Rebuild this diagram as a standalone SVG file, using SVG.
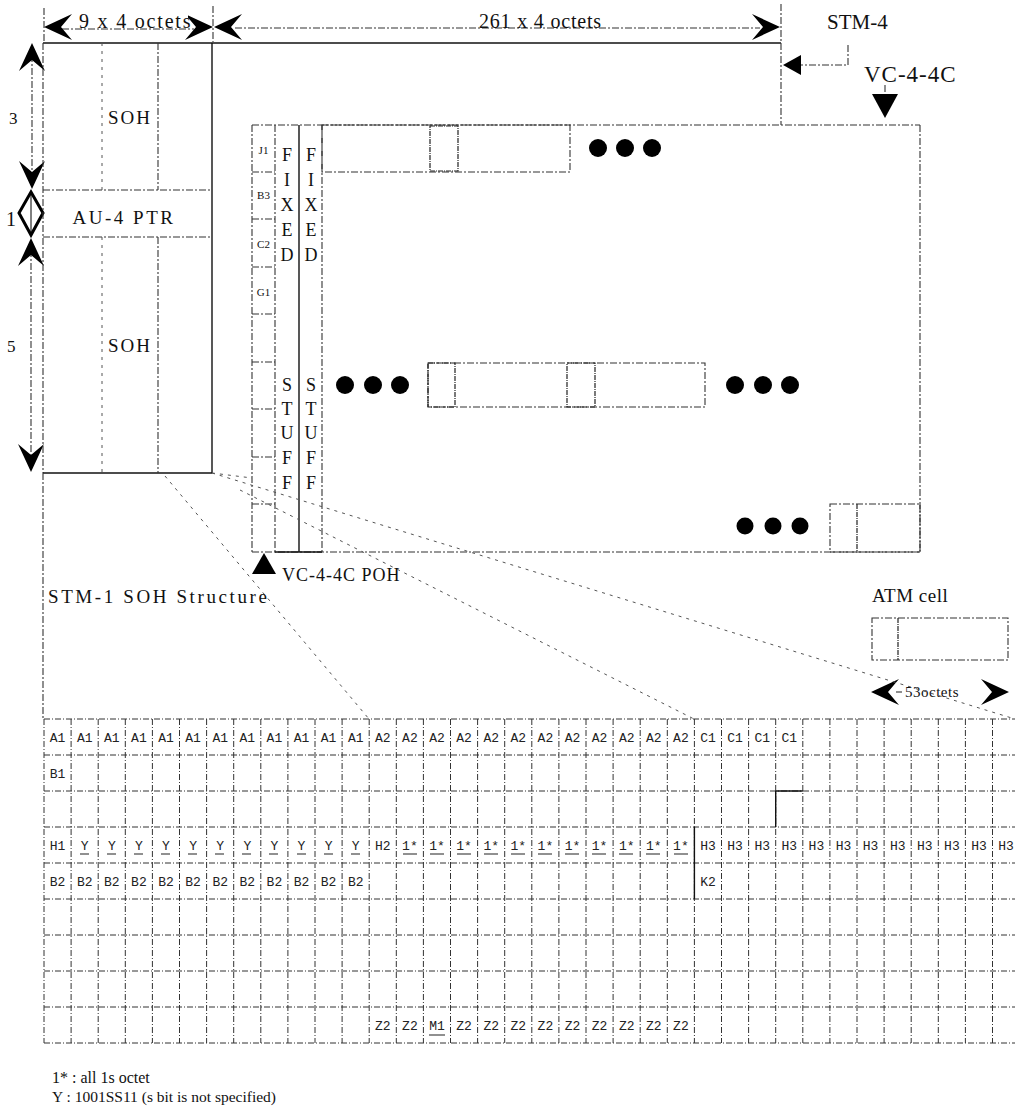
<svg xmlns="http://www.w3.org/2000/svg" xmlns:xlink="http://www.w3.org/1999/xlink" width="1015" height="1110" viewBox="0 0 1015 1110">
<style>
.t{font-family:"Liberation Serif","Times New Roman",serif;fill:#111}
.m{font-family:"Liberation Mono","Courier New",monospace;fill:#222;font-size:13px;text-anchor:middle}
.d{stroke:#333;stroke-width:1.1;stroke-dasharray:7 2 2 2;fill:none}
.f{stroke:#555;stroke-width:1;stroke-dasharray:3 5;fill:none}
.s{stroke:#111;stroke-width:1.4;fill:none}
.h{stroke:#222;stroke-width:1.2;stroke-dasharray:5 1 1 1;fill:none}
.g{stroke:#333;stroke-width:1;stroke-dasharray:6 2 1 2;fill:none}
.u{stroke:#222;stroke-width:1.2}
</style>
<defs>
<path id="ah" d="M0,0 L-28,-13 L-17,0 L-28,13 Z" fill="#000"/>
</defs>
<rect width="1015" height="1110" fill="#fff"/>

<g id="dimensions">
<line class="d" x1="44" y1="8" x2="44" y2="42"/>
<line class="d" x1="213" y1="6" x2="213" y2="42"/>
<line class="d" x1="781" y1="4" x2="781" y2="42"/>
<line class="d" x1="62" y1="29" x2="194" y2="29"/>
<line class="d" x1="235" y1="28" x2="760" y2="28"/>
<rect x="476" y="10" width="130" height="16" fill="#fff"/>
<use href="#ah" transform="translate(44,27) rotate(180)"/>
<use href="#ah" transform="translate(213,27)"/>
<use href="#ah" transform="translate(214,27) rotate(180)"/>
<use href="#ah" transform="translate(780,27)"/>
<rect x="76" y="10" width="112" height="17" fill="#fff"/>
<text class="t" x="79" y="28" font-size="20" letter-spacing="1.8">9 x 4 octets</text>
<text class="t" x="479" y="28" font-size="20" letter-spacing="0.8">261 x 4 octets</text>
<line class="d" x1="32" y1="55" x2="32" y2="178"/>
<use href="#ah" transform="translate(32,43) rotate(-90)"/>
<use href="#ah" transform="translate(32,189) rotate(90)"/>
<polygon points="31,192 43,213 31,235 19,213" fill="#fff" stroke="#000" stroke-width="3"/>
<line x1="31" y1="194" x2="31" y2="233" stroke="#000" stroke-width="1"/>
<line class="d" x1="31" y1="250" x2="31" y2="460"/>
<use href="#ah" transform="translate(31,238) rotate(-90)"/>
<use href="#ah" transform="translate(31,472) rotate(90)"/>
<text class="t" x="9" y="124" font-size="17">3</text>
<text class="t" x="6" y="226" font-size="20">1</text>
<text class="t" x="7" y="352" font-size="17">5</text>
</g>

<g id="stm4-frame">
<line class="s" x1="43" y1="43" x2="781" y2="43"/>
<line class="d" x1="781" y1="43" x2="781" y2="125"/>
<text class="t" x="827" y="29" font-size="21">STM-4</text>
<polyline class="d" points="848,45 848,65 801,65"/>
<polygon points="783,65 801,55 801,75" fill="#000"/>
</g>

<g id="soh-block">
<line class="d" x1="43" y1="43" x2="43" y2="473"/>
<line class="s" x1="212" y1="43" x2="212" y2="473"/>
<line class="s" x1="43" y1="473" x2="212" y2="473"/>
<line class="d" x1="43" y1="190" x2="212" y2="190"/>
<line class="d" x1="43" y1="237" x2="212" y2="237"/>
<line class="f" x1="102" y1="43" x2="102" y2="190"/>
<line class="d" x1="158" y1="43" x2="158" y2="190"/>
<line class="f" x1="102" y1="237" x2="102" y2="473"/>
<line class="d" x1="158" y1="237" x2="158" y2="473"/>
<text class="t" x="130" y="124" font-size="19" letter-spacing="2" text-anchor="middle">SOH</text>
<text class="t" x="124" y="224" font-size="19" letter-spacing="2.5" text-anchor="middle">AU-4 PTR</text>
<text class="t" x="130" y="352" font-size="19" letter-spacing="2" text-anchor="middle">SOH</text>
</g>

<g id="vc-4-4c-frame">
<line class="d" x1="252" y1="125" x2="920" y2="125"/>
<line class="d" x1="920" y1="125" x2="920" y2="552"/>
<line class="d" x1="252" y1="552" x2="920" y2="552"/>
<line class="s" x1="275" y1="552" x2="322" y2="552"/>
<text class="t" x="864" y="82" font-size="23" letter-spacing="1">VC-4-4C</text>
<line class="d" x1="885" y1="85" x2="885" y2="94"/>
<polygon points="872,94 898,94 885,118" fill="#000"/>
</g>

<g id="poh-column">
<line class="d" x1="252" y1="125" x2="252" y2="552"/>
<line class="d" x1="275" y1="125" x2="275" y2="552"/>
<path class="d" d="M252 172H275M252 219H275M252 267H275M252 314H275M252 362H275M252 409H275M252 457H275M252 504H275"/>
<text class="t" x="263.5" y="154" font-size="11" text-anchor="middle">J1</text>
<text class="t" x="263.5" y="199" font-size="11" text-anchor="middle">B3</text>
<text class="t" x="263.5" y="248" font-size="11" text-anchor="middle">C2</text>
<text class="t" x="263.5" y="296" font-size="11" text-anchor="middle">G1</text>
</g>

<g id="fixed-stuff-columns">
<line class="s" x1="299" y1="125" x2="299" y2="552"/>
<line class="d" x1="322" y1="125" x2="322" y2="552"/>
<g class="t" font-size="18" text-anchor="middle">
<text x="287" y="161">F</text><text x="287" y="186">I</text><text x="287" y="211">X</text><text x="287" y="236">E</text><text x="287" y="261">D</text>
<text x="311" y="161">F</text><text x="311" y="186">I</text><text x="311" y="211">X</text><text x="311" y="236">E</text><text x="311" y="261">D</text>
<text x="287" y="391">S</text><text x="287" y="415">T</text><text x="287" y="439">U</text><text x="287" y="464">F</text><text x="287" y="489">F</text>
<text x="311" y="391">S</text><text x="311" y="415">T</text><text x="311" y="439">U</text><text x="311" y="464">F</text><text x="311" y="489">F</text>
</g>
</g>

<g id="atm-cells">
<rect class="d" x="322" y="125" width="248" height="47"/>
<rect class="h" x="430" y="126" width="28" height="45"/>
<rect class="d" x="428" y="363" width="277" height="44"/>
<rect class="h" x="428" y="363" width="27" height="44"/>
<rect class="h" x="567" y="363" width="28" height="44"/>
<rect class="d" x="830" y="504" width="90" height="48"/>
<line class="h" x1="857" y1="504" x2="857" y2="552"/>
<g fill="#000">
<circle cx="598" cy="148" r="9"/><circle cx="625" cy="148" r="9"/><circle cx="652" cy="148" r="9"/>
<circle cx="345" cy="385" r="9"/><circle cx="373" cy="385" r="9"/><circle cx="400" cy="385" r="9"/>
<circle cx="735" cy="385" r="9"/><circle cx="763" cy="385" r="9"/><circle cx="790" cy="385" r="9"/>
<circle cx="745" cy="526" r="8.5"/><circle cx="773" cy="526" r="8.5"/><circle cx="800" cy="526" r="8.5"/>
</g>
</g>

<g id="poh-label">
<polygon points="264,553 252,574 276,574" fill="#000"/>
<text class="t" x="282" y="581" font-size="18" letter-spacing="1">VC-4-4C POH</text>
</g>

<g id="atm-cell-legend">
<text class="t" x="872" y="602" font-size="19" letter-spacing="0.5">ATM cell</text>
<rect class="d" x="872" y="618" width="136" height="42"/>
<line class="h" x1="898" y1="618" x2="898" y2="660"/>
<use href="#ah" transform="translate(871,692) rotate(180)"/>
<use href="#ah" transform="translate(1009,692)"/>
<line class="d" x1="896" y1="692" x2="902" y2="692"/>
<text class="t" x="905" y="697" font-size="15" letter-spacing="0.5">53octets</text>
</g>

<g id="connectors">
<line class="d" x1="43" y1="473" x2="43" y2="719"/>
<line class="f" x1="212" y1="473" x2="252" y2="478"/>
<line class="f" x1="165" y1="476" x2="369" y2="719"/>
<line class="f" x1="212" y1="473" x2="1015" y2="719"/>
<line class="f" x1="240" y1="490" x2="694" y2="719"/>
</g>

<g id="stm1-soh-structure">
<text class="t" x="48" y="603" font-size="19" letter-spacing="2.6">STM-1 SOH Structure</text>
<path class="g" d="M44 719V1043M71.1 719V1043M98.2 719V1043M125.3 719V1043M152.4 719V1043M179.5 719V1043M206.6 719V1043M233.7 719V1043M260.8 719V1043M287.9 719V1043M315 719V1043M342.1 719V1043M369.2 719V1043M396.3 719V1043M423.4 719V1043M450.5 719V1043M477.6 719V1043M504.7 719V1043M531.8 719V1043M558.9 719V1043M586 719V1043M613.1 719V1043M640.2 719V1043M667.3 719V1043M694.4 719V1043M721.5 719V1043M748.6 719V1043M775.7 719V1043M802.8 719V1043M829.9 719V1043M857 719V1043M884.1 719V1043M911.2 719V1043M938.3 719V1043M965.4 719V1043M992.5 719V1043"/>
<path class="g" d="M44 719H1015M44 755H1015M44 791H1015M44 827H1015M44 863H1015M44 899H1015M44 935H1015M44 971H1015M44 1007H1015M44 1043H1015"/>
<path class="s" stroke-width="1.2" d="M775.7 791V827M775.7 791H802.8M694.4 827V899"/>
<g class="m">
<text x="57.6" y="742">A1</text><text x="84.7" y="742">A1</text><text x="111.8" y="742">A1</text><text x="138.9" y="742">A1</text><text x="166" y="742">A1</text><text x="193.1" y="742">A1</text><text x="220.2" y="742">A1</text><text x="247.3" y="742">A1</text><text x="274.4" y="742">A1</text><text x="301.5" y="742">A1</text><text x="328.6" y="742">A1</text><text x="355.7" y="742">A1</text>
<text x="382.8" y="742">A2</text><text x="409.9" y="742">A2</text><text x="437" y="742">A2</text><text x="464.1" y="742">A2</text><text x="491.2" y="742">A2</text><text x="518.3" y="742">A2</text><text x="545.4" y="742">A2</text><text x="572.5" y="742">A2</text><text x="599.6" y="742">A2</text><text x="626.7" y="742">A2</text><text x="653.8" y="742">A2</text><text x="680.9" y="742">A2</text>
<text x="708" y="742">C1</text><text x="735.1" y="742">C1</text><text x="762.2" y="742">C1</text><text x="789.3" y="742">C1</text>
<text x="57.6" y="778">B1</text>
<text x="57.6" y="850">H1</text>
<text x="84.7" y="850">Y</text><text x="111.8" y="850">Y</text><text x="138.9" y="850">Y</text><text x="166" y="850">Y</text><text x="193.1" y="850">Y</text><text x="220.2" y="850">Y</text><text x="247.3" y="850">Y</text><text x="274.4" y="850">Y</text><text x="301.5" y="850">Y</text><text x="328.6" y="850">Y</text><text x="355.7" y="850">Y</text>
<text x="382.8" y="850">H2</text>
<text x="409.9" y="850">1*</text><text x="437" y="850">1*</text><text x="464.1" y="850">1*</text><text x="491.2" y="850">1*</text><text x="518.3" y="850">1*</text><text x="545.4" y="850">1*</text><text x="572.5" y="850">1*</text><text x="599.6" y="850">1*</text><text x="626.7" y="850">1*</text><text x="653.8" y="850">1*</text><text x="680.9" y="850">1*</text>
<text x="708" y="850">H3</text><text x="735.1" y="850">H3</text><text x="762.2" y="850">H3</text><text x="789.3" y="850">H3</text><text x="816.4" y="850">H3</text><text x="843.5" y="850">H3</text><text x="870.6" y="850">H3</text><text x="897.7" y="850">H3</text><text x="924.8" y="850">H3</text><text x="951.9" y="850">H3</text><text x="979" y="850">H3</text><text x="1006.1" y="850">H3</text>
<text x="57.6" y="886">B2</text><text x="84.7" y="886">B2</text><text x="111.8" y="886">B2</text><text x="138.9" y="886">B2</text><text x="166" y="886">B2</text><text x="193.1" y="886">B2</text><text x="220.2" y="886">B2</text><text x="247.3" y="886">B2</text><text x="274.4" y="886">B2</text><text x="301.5" y="886">B2</text><text x="328.6" y="886">B2</text><text x="355.7" y="886">B2</text>
<text x="708" y="886">K2</text>
<text x="382.8" y="1030">Z2</text><text x="409.9" y="1030">Z2</text><text x="437" y="1030">M1</text><text x="464.1" y="1030">Z2</text><text x="491.2" y="1030">Z2</text><text x="518.3" y="1030">Z2</text><text x="545.4" y="1030">Z2</text><text x="572.5" y="1030">Z2</text><text x="599.6" y="1030">Z2</text><text x="626.7" y="1030">Z2</text><text x="653.8" y="1030">Z2</text><text x="680.9" y="1030">Z2</text>
</g>
<path class="u" d="M80 854h9M107 854h9M134 854h9M161 854h9M188 854h9M215 854h9M242 854h9M269 854h9M297 854h9M324 854h9M351 854h9M403 854h14M430 854h14M457 854h14M484 854h14M511 854h14M538 854h14M565 854h14M592 854h14M619 854h14M646 854h14M674 854h14M429 1035h16"/>
</g>

<g id="footnotes">
<text class="t" x="52" y="1083" font-size="16">1* : all 1s octet</text>
<text class="t" x="52" y="1102" font-size="15.5">Y : 1001SS11 (s bit is not specified)</text>
</g>
</svg>
